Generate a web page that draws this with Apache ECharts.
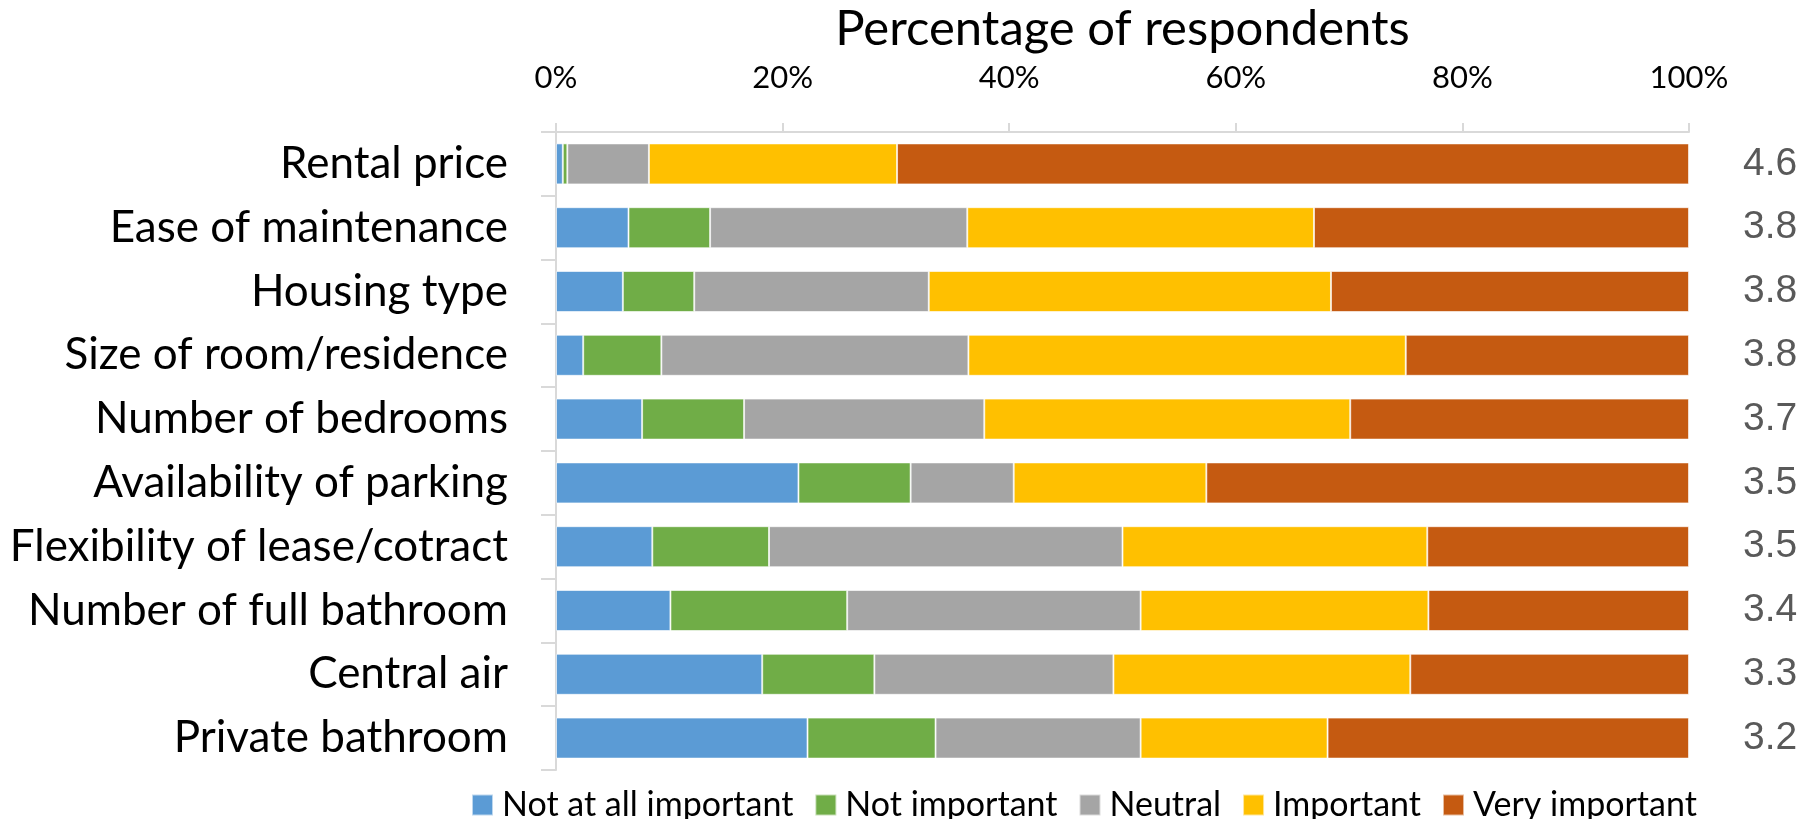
<!DOCTYPE html>
<html>
<head>
<meta charset="utf-8">
<script src="https://cdn.jsdelivr.net/npm/echarts@6/dist/echarts.min.js"></script>
<style>
  html, body { margin: 0; padding: 0; background: #fff; }
  #chart { width: 1808px; height: 819px; }
</style>
</head>
<body>
<div id="chart"></div>
<script>
const categories = [
  'Rental price', 'Ease of maintenance', 'Housing type', 'Size of room/residence',
  'Number of bedrooms', 'Availability of parking', 'Flexibility of lease/cotract',
  'Number of full bathroom', 'Central air', 'Private bathroom'
];
const notAtAllImportant = [0.6, 6.4, 5.9, 2.4, 7.6, 21.4, 8.5, 10.1, 18.2, 22.2];
const notImportant      = [0.4, 7.2, 6.3, 6.9, 9.0, 9.9, 10.3, 15.6, 9.9, 11.3];
const neutral           = [7.2, 22.7, 20.7, 27.1, 21.2, 9.1, 31.2, 25.9, 21.1, 18.1];
const important         = [21.9, 30.6, 35.5, 38.6, 32.3, 17.0, 26.9, 25.4, 26.2, 16.5];
const veryImportant     = [69.9, 33.1, 31.6, 25.0, 29.9, 42.6, 23.1, 23.0, 24.6, 31.9];
const meanScores = ['4.6', '3.8', '3.8', '3.8', '3.7', '3.5', '3.5', '3.4', '3.3', '3.2'];
const xTicks = [0, 20, 40, 60, 80, 100];

const seriesDefs = [
  { name: 'Not at all important', data: notAtAllImportant, color: '#5B9BD5' },
  { name: 'Not important', data: notImportant, color: '#70AD47' },
  { name: 'Neutral', data: neutral, color: '#A5A5A5' },
  { name: 'Important', data: important, color: '#FFC000' },
  { name: 'Very important', data: veryImportant, color: '#C55A11' }
];

const chart = echarts.init(document.getElementById('chart'), null, { renderer: 'canvas' });
const font = 'Lato';
chart.setOption({
  animation: false,
  backgroundColor: '#ffffff',
  grid: { left: 556, right: 119, top: 119, bottom: 49, containLabel: false },
  legend: {
    left: 466, top: 783,
    itemWidth: 21, itemHeight: 21, itemGap: 21,
    icon: 'rect',
    textStyle: { fontFamily: font, fontSize: 34, color: '#000', padding: [0, 0, 0, 4] },
    data: seriesDefs.map(s => s.name)
  },
  xAxis: {
    type: 'value', position: 'top', min: xTicks[0], max: xTicks[xTicks.length - 1], interval: 20,
    name: 'Percentage of respondents', nameLocation: 'middle', nameGap: 78,
    nameTextStyle: { fontFamily: font, fontSize: 49, color: '#000' },
    axisLine: { show: true, lineStyle: { color: '#d9d9d9', width: 2 } },
    axisTick: { show: true, length: 9, lineStyle: { color: '#d9d9d9', width: 2 } },
    axisLabel: { formatter: '{value}%', fontFamily: font, fontSize: 31, color: '#000', margin: 39 },
    splitLine: { show: false }
  },
  yAxis: [
    {
      type: 'category', data: categories, inverse: true,
      axisLine: { show: true, lineStyle: { color: '#d9d9d9', width: 2 } },
      axisTick: { show: true, length: 15, lineStyle: { color: '#d9d9d9', width: 2 } },
      axisLabel: { fontFamily: font, fontSize: 44, color: '#000', margin: 48 }
    },
    {
      type: 'category', data: categories, inverse: true, position: 'right',
      axisLine: { show: false }, axisTick: { show: false },
      axisLabel: {
        fontFamily: 'Liberation Sans', fontSize: 39, color: '#595959', margin: 54,
        padding: [8, 0, 0, 0],
        formatter: (v, i) => meanScores[i]
      }
    }
  ],
  series: seriesDefs.map(s => ({
    name: s.name, type: 'bar', stack: 'total', yAxisIndex: 0,
    data: s.data, barWidth: 41,
    itemStyle: { color: s.color, borderColor: 'rgba(255,255,255,0.6)', borderWidth: 1 },
    emphasis: { disabled: true }
  }))
});
</script>
</body>
</html>
